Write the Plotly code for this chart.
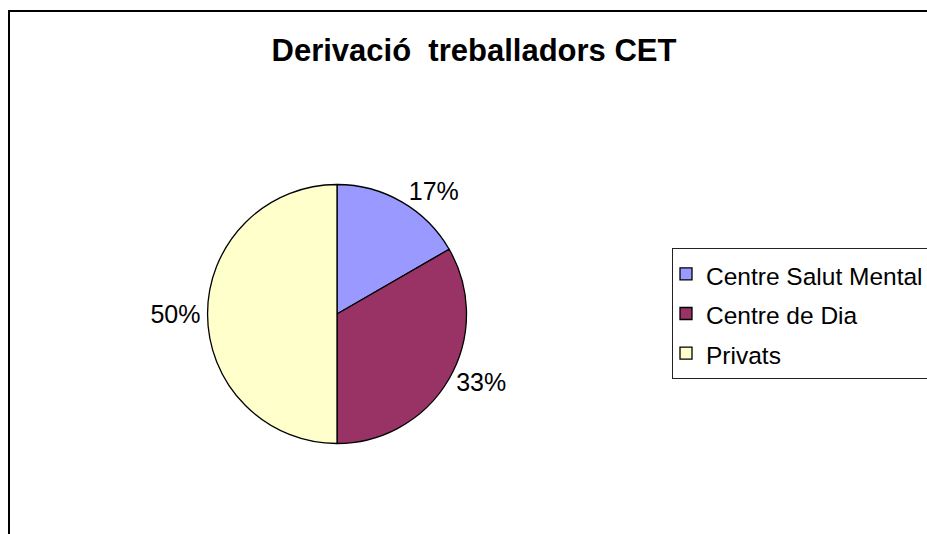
import plotly.graph_objects as go

# Data
categories = ["Centre Salut Mental", "Centre de Dia", "Privats"]
values = [1, 2, 3]
colors = ["#9999FF", "#993366", "#FFFFCC"]
title_text = "Derivació \u00a0treballadors CET"

W, H = 927, 534


def px(x):
    return x / W


def py(y):
    return 1 - y / H


cx, cy, r = 337, 314, 129.5

legend_labels = [f'<span style="font-size:24.5px">{c}</span>' for c in categories]

fig = go.Figure(
    go.Pie(
        labels=legend_labels,
        values=values,
        sort=False,
        direction="clockwise",
        rotation=0,
        marker=dict(colors=colors, line=dict(color="black", width=1.3)),
        texttemplate="%{percent:.0%}",
        textposition="outside",
        textfont=dict(family="Liberation Sans, Arial, sans-serif", size=25, color="black"),
        domain=dict(x=[px(cx - r), px(cx + r)], y=[py(cy + r), py(cy - r)]),
        hovertemplate="%{label}: %{value} (%{percent:.0%})<extra></extra>",
    )
)

fig.update_layout(
    width=W,
    height=H,
    margin=dict(l=0, r=0, t=0, b=0, autoexpand=False),
    paper_bgcolor="white",
    plot_bgcolor="white",
    title=dict(
        text="<b>" + title_text + "</b>",
        x=px(474),
        xref="container",
        y=py(50),
        yref="container",
        xanchor="center",
        yanchor="middle",
        font=dict(family="Liberation Sans, Arial, sans-serif", size=31, color="black"),
    ),
    legend=dict(
        x=px(672),
        y=py(248),
        xanchor="left",
        yanchor="top",
        bgcolor="white",
        bordercolor="#222",
        borderwidth=1,
        indentation=-7,
        font=dict(family="Liberation Sans, Arial, sans-serif", size=28.2, color="black"),
    ),
    shapes=[
        dict(
            type="path",
            xref="paper",
            yref="paper",
            path=f"M {px(9)},0 L {px(9)},{py(11)} L 1,{py(11)}",
            line=dict(color="black", width=2),
        )
    ],
)

fig.write_html(
    "out.html",
    config={"displayModeBar": False},
    post_script="document.body.style.margin='0';document.body.style.overflow='hidden';",
)
